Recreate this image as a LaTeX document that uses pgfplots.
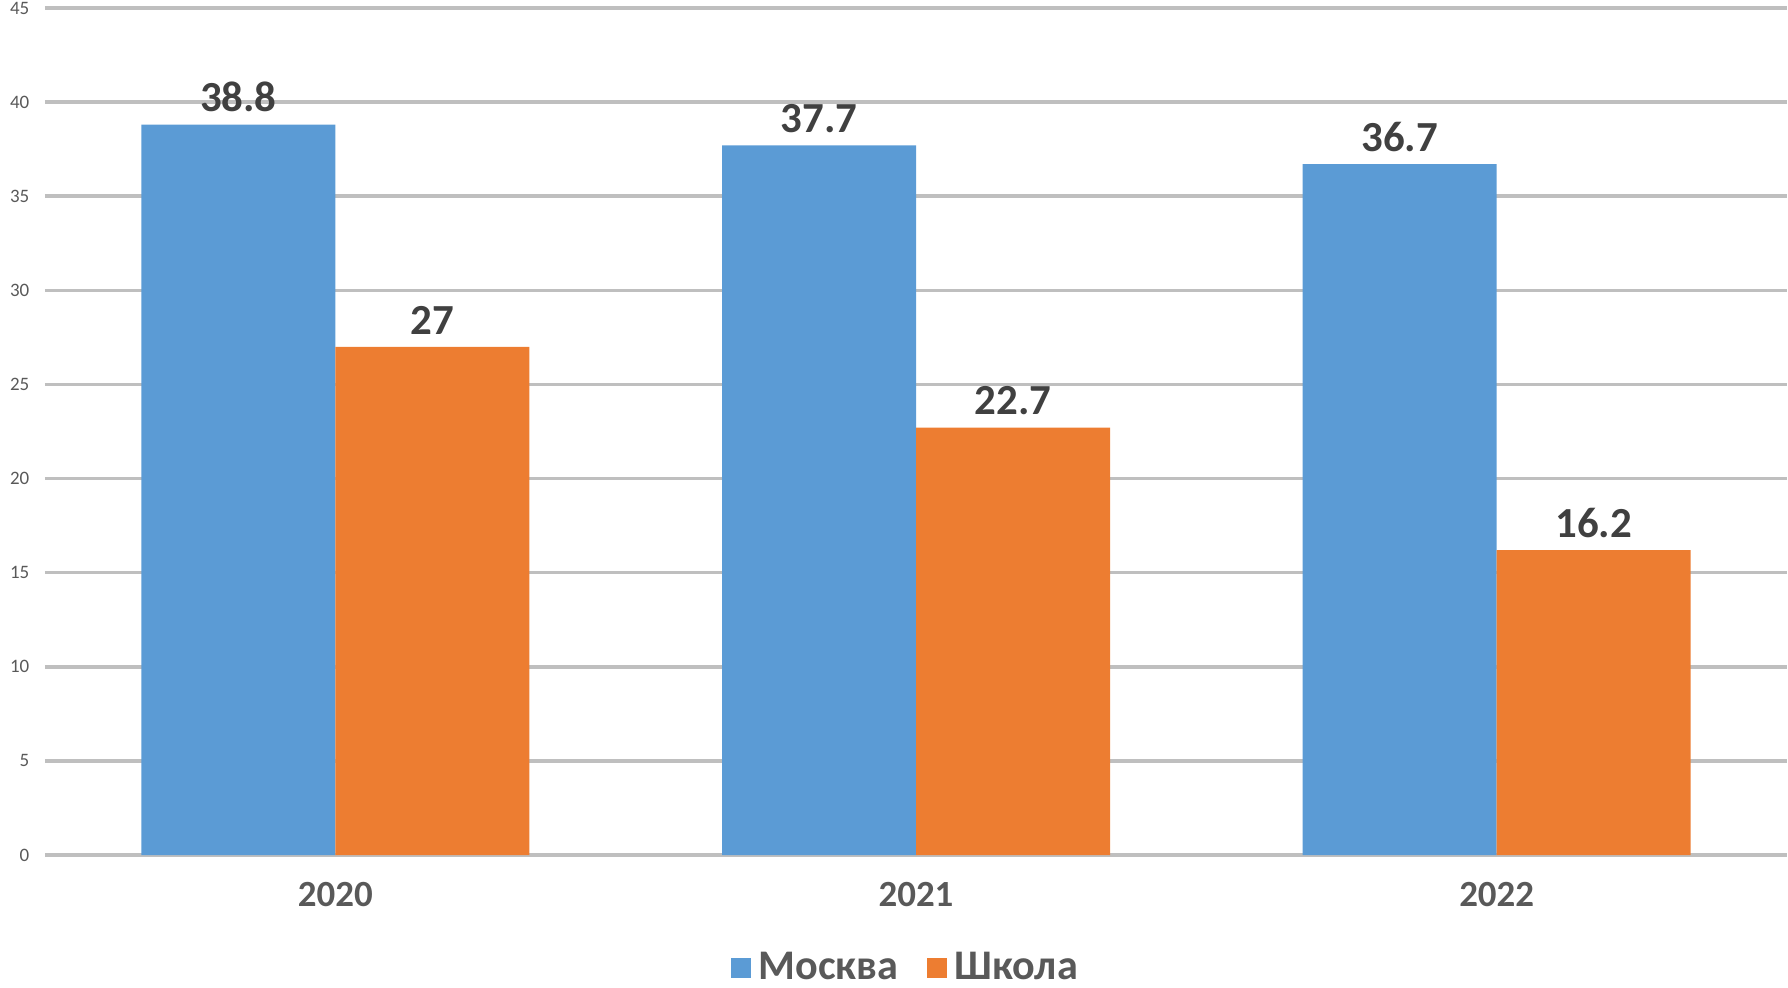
\documentclass[border=0pt]{standalone}
\usepackage{pgfplots}
\pgfplotsset{compat=1.18}
\usepackage{fontspec}
\setmainfont{Carlito}

\definecolor{moskva}{HTML}{5B9BD5}
\definecolor{shkola}{HTML}{ED7D31}
\definecolor{gridgray}{HTML}{BFBFBF}
\definecolor{txtgray}{HTML}{595959}
\definecolor{lblgray}{HTML}{404040}

\begin{document}
\begin{tikzpicture}
\begin{axis}[
    scale only axis,
    width=174.2mm, height=84.7mm,
    ybar=0pt, bar width=19.4mm,
    xmin=-0.5, xmax=2.5,
    ymin=0, ymax=45,
    ytick={0,5,...,45},
    xtick=data,
    xticklabels={2020,2021,2022},
    major tick length=0pt,
    axis line style={draw=none},
    ymajorgrids,
    grid style={gridgray, line width=1pt},
    /pgf/number format/assume math mode=true,
    yticklabel style={font=\fontsize{5.4}{6}\selectfont, text=txtgray, inner sep=0pt, xshift=-1.5mm},
    xticklabel style={font=\fontsize{10.5}{12}\selectfont\bfseries, text=txtgray, inner sep=0pt, yshift=-2.7mm},
    nodes near coords,
    every node near coord/.append style={font=\fontsize{12.2}{14}\selectfont\bfseries, text=lblgray, inner sep=0pt, yshift=1.2mm},
    legend columns=2,
    legend style={draw=none, fill=none, font=\fontsize{12}{14}\selectfont\bfseries, text=txtgray,
        at={(axis description cs:0.4955,0)}, anchor=center, yshift=-11.3mm,
        /tikz/every even column/.append style={column sep=2.2mm}},
    legend image code/.code={\fill[#1,draw=none] (0mm,-1mm) rectangle (2mm,1mm);},
]
\addplot[fill=moskva, draw=none] coordinates {(0,38.8) (1,37.7) (2,36.7)};
\addplot[fill=shkola, draw=none] coordinates {(0,27) (1,22.7) (2,16.2)};
\legend{Москва, Школа}
\end{axis}
\pgfresetboundingbox
\useasboundingbox (-4.5mm,-13.2mm) rectangle (174.3mm,85.5mm);
\end{tikzpicture}
\end{document}
